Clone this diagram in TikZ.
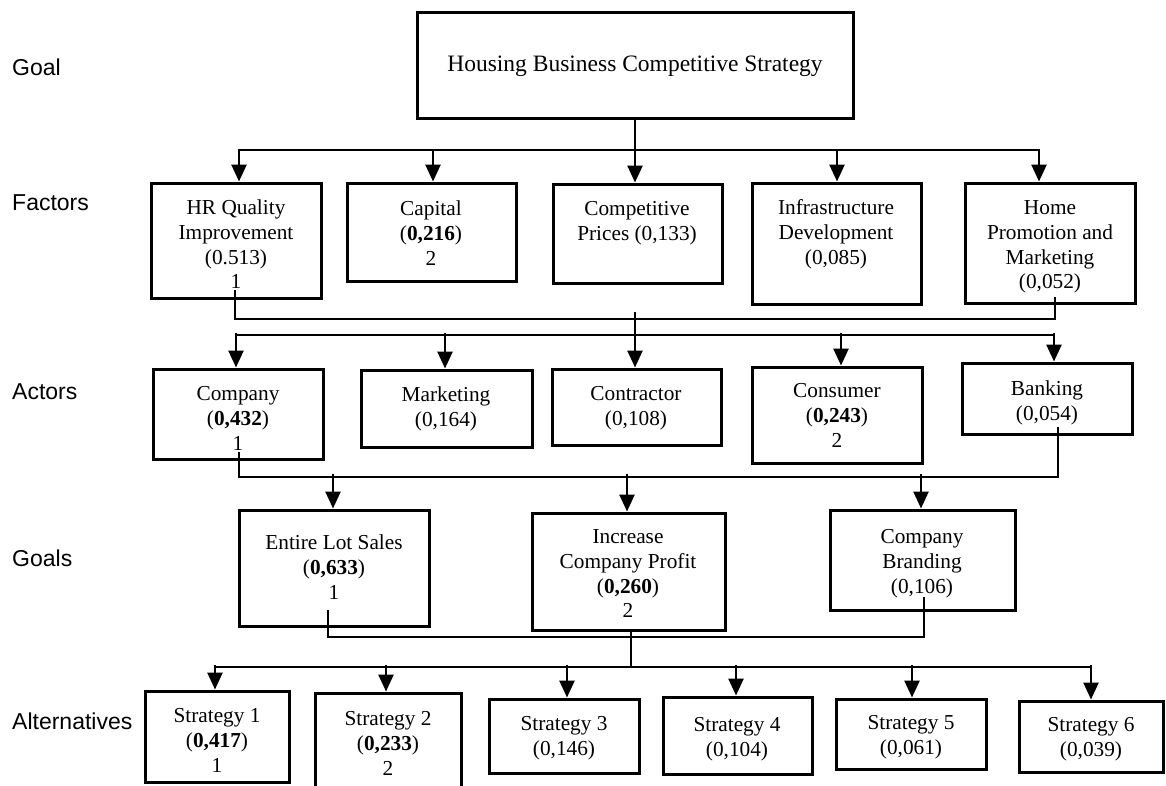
\documentclass[tikz,border=0pt]{standalone}
\usepackage{fontspec}
\setmainfont{Liberation Serif}
\newfontfamily\labfont{Liberation Sans}
\usetikzlibrary{arrows.meta}
\tikzset{
  boxn/.style={draw, line width=3pt, inner sep=0pt, rectangle},
  txt/.style={anchor=north, inner sep=0pt, align=center, font=\fontsize{21.3}{24.6}\selectfont},
  toptxt/.style={inner sep=0pt, font=\fontsize{23.5}{27}\selectfont},
  lab/.style={anchor=west, inner sep=0pt, font=\labfont\fontsize{23}{27}\selectfont},
  bus/.style={line width=1.6pt},
  thinline/.style={line width=1.4pt},
  arr/.style={line width=2.6pt, -{Triangle[length=17pt,width=15pt]}},
}
% name, left, top, right, bottom
\newcommand\mybox[5]{%
  \node[boxn, minimum width={(#4-#2)*1pt}, minimum height={(#5-#3)*1pt}] (#1) at ({(#2+#4)/2},{(#3+#5)/2}) {};}
% name, center x, first line center y, text
\newcommand\mytext[4]{%
  \node[txt] (#1) at (#2,{#3-10.5}) {\strut #4};}
\begin{document}
\begin{tikzpicture}[x=1pt,y=-1pt]
\useasboundingbox (0,0) rectangle (1166,785);

% level labels
\node[lab] (lgoal) at (12,67) {Goal};
\node[lab] (lfact) at (12,203) {Factors};
\node[lab] (lact) at (12,392) {Actors};
\node[lab] (lgoals) at (12,558) {Goals};
\node[lab] (lalt) at (12,721) {Alternatives};

% goal
\mybox{top}{417}{12}{853}{118}
\node[toptxt] (topt) at (635,66) {Housing Business Competitive Strategy};

% factors
\mybox{hr}{151}{183}{321}{298}
\mytext{hrt}{236}{208}{HR Quality\\Improvement\\(0.513)\\1}
\mybox{cap}{347}{183}{516}{281}
\mytext{capt}{431}{209}{Capital\\(\textbf{0,216})\\2}
\mybox{comp}{553}{184}{722}{283}
\mytext{compt}{637}{209}{Competitive\\Prices (0,133)}
\mybox{infra}{752}{183}{921}{304}
\mytext{infrat}{836}{208}{Infrastructure\\Development\\(0,085)}
\mybox{home}{965}{183}{1135}{303}
\mytext{homet}{1050}{208}{Home\\Promotion and\\Marketing\\(0,052)}

% actors
\mybox{comy}{153}{369}{323}{459}
\mytext{comyt}{238}{394}{Company\\(\textbf{0,432})\\1}
\mybox{mkt}{361}{370}{532}{447}
\mytext{mktt}{446}{395}{Marketing\\(0,164)}
\mybox{contr}{552}{369}{721}{445}
\mytext{contrt}{636}{394}{Contractor\\(0,108)}
\mybox{cons}{752}{367}{922}{463}
\mytext{const}{837}{391}{Consumer\\(\textbf{0,243})\\2}
\mybox{bank}{962}{363}{1132}{434}
\mytext{bankt}{1047}{389}{Banking\\(0,054)}

% goals
\mybox{ent}{239}{510}{429}{626}
\mytext{entt}{334}{543}{Entire Lot Sales\\(\textbf{0,633})\\1}
\mybox{inc}{532}{513}{725}{630}
\mytext{inct}{628}{537}{Increase\\Company Profit\\(\textbf{0,260})\\2}
\mybox{brand}{830}{510}{1015}{610}
\mytext{brandt}{922}{537}{Company\\Branding\\(0,106)}

% alternatives
\mybox{s1}{145}{691}{289}{782}
\mytext{s1t}{217}{716}{Strategy 1\\(\textbf{0,417})\\1}
\mybox{s2}{315}{693}{461}{792}
\mytext{s2t}{388}{719}{Strategy 2\\(\textbf{0,233})\\2}
\mybox{s3}{489}{699}{639}{773}
\mytext{s3t}{564}{724}{Strategy 3\\(0,146)}
\mybox{s4}{663}{697}{812}{774}
\mytext{s4t}{737}{725}{Strategy 4\\(0,104)}
\mybox{s5}{836}{699}{986}{769}
\mytext{s5t}{911}{723}{Strategy 5\\(0,061)}
\mybox{s6}{1019}{701}{1163}{772}
\mytext{s6t}{1091}{725}{Strategy 6\\(0,039)}

% goal -> factors
\coordinate (fbusL) at (239,150);
\coordinate (fbusR) at (1039,150);
\draw[bus] (fbusL) -- (fbusR);
\draw[bus] (top.south) -- (top.south |- fbusL);
\foreach \n/\x in {hr/239,cap/433,comp/635,infra/837,home/1039}{
  \coordinate (fs) at (\x,149);
  \draw[arr] (fs) -- (fs |- \n.north);
}

% factors -> actors
\coordinate (hrtap) at (235,290);
\coordinate (collect1) at (1055,319);
\coordinate (hometap) at (1055,297);
\draw[thinline] (hrtap) |- (collect1) -- (hometap);
\coordinate (adrop) at (635,312);
\draw[arr] (adrop) -- (adrop |- contr.north);
\coordinate (abusL) at (236,335);
\coordinate (abusR) at (1054,335);
\draw[bus] (abusL) -- (abusR);
\foreach \n/\x in {comy/236,mkt/445,cons/841,bank/1054}{
  \coordinate (as) at (\x,333);
  \draw[arr] (as) -- (as |- \n.north);
}

% actors -> goals
\coordinate (cotap) at (239,452);
\coordinate (collect2) at (1058,477);
\coordinate (batap) at (1058,427);
\draw[thinline] (cotap) |- (collect2) -- (batap);
\foreach \n/\x in {ent/333,inc/627,brand/921}{
  \coordinate (gs) at (\x,474);
  \draw[arr] (gs) -- (gs |- \n.north);
}

% goals -> alternatives
\coordinate (entap) at (328,610);
\coordinate (collect3) at (924,637);
\coordinate (brtap) at (924,597);
\draw[thinline] (entap) |- (collect3) -- (brtap);
\coordinate (inctap) at (631,630);
\coordinate (altmid) at (631,667);
\draw[bus] (inctap) -- (altmid);
\coordinate (altL) at (215,667);
\coordinate (altR) at (1091,667);
\draw[bus] (altL) -- (altR);
\foreach \n/\x in {s1/215,s2/386,s3/567,s4/736,s5/912,s6/1091}{
  \coordinate (ss) at (\x,665);
  \draw[arr] (ss) -- (ss |- \n.north);
}
\end{tikzpicture}
\end{document}
